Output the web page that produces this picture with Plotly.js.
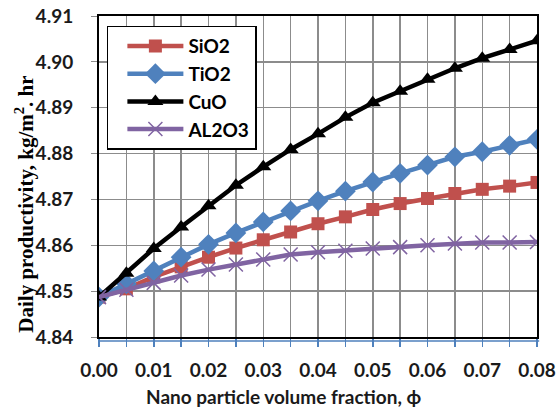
<!DOCTYPE html>
<html>
<head>
<meta charset="utf-8">
<script src="https://cdn.plot.ly/plotly-3.0.1.min.js"></script>
<style>html,body{margin:0;padding:0;background:#fff;}</style>
</head>
<body>
<div id="chart" style="width:556px;height:410px;"></div>
<script>
const phi = [0.000, 0.005, 0.010, 0.015, 0.020, 0.025, 0.030, 0.035, 0.040, 0.045, 0.050, 0.055, 0.060, 0.065, 0.070, 0.075, 0.080];
const sio2 = [4.8487, 4.8505, 4.8531, 4.8553, 4.8574, 4.8594, 4.8612, 4.8629, 4.8647, 4.8662, 4.8678, 4.8691, 4.8702, 4.8713, 4.8722, 4.8729, 4.8737];
const tio2 = [4.8487, 4.8516, 4.8544, 4.8574, 4.8602, 4.8627, 4.8651, 4.8675, 4.8697, 4.8718, 4.8738, 4.8757, 4.8775, 4.8793, 4.8804, 4.8818, 4.8831];
const cuo = [4.8487, 4.8539, 4.8593, 4.8640, 4.8686, 4.8731, 4.8771, 4.8809, 4.8843, 4.8879, 4.8911, 4.8936, 4.8962, 4.8986, 4.9008, 4.9027, 4.9046];
const al2o3 = [4.8487, 4.8503, 4.8518, 4.8534, 4.8547, 4.8558, 4.8569, 4.8580, 4.8585, 4.8588, 4.8593, 4.8596, 4.8600, 4.8604, 4.8606, 4.8606, 4.8607];
const xTickVals = [0.00, 0.01, 0.02, 0.03, 0.04, 0.05, 0.06, 0.07, 0.08];
const xTickText = ["0.00", "0.01", "0.02", "0.03", "0.04", "0.05", "0.06", "0.07", "0.08"];
const yTickVals = [4.84, 4.85, 4.86, 4.87, 4.88, 4.89, 4.90, 4.91];
const yTickText = ["4.84", "4.85", "4.86", "4.87", "4.88", "4.89", "4.90", "4.91"];
const xTitle = "Nano particle volume fraction, ϕ";
const yTitle = "Daily productivity, kg/m<sup>2</sup>. hr";

const sans = "Lato, 'Open Sans', sans-serif";
const serif = "'Liberation Serif', 'Times New Roman', serif";
const traces = [
  {x: phi, y: sio2, name: "SiO2", mode: "lines+markers", line: {color: "#C0504D", width: 4.5},
   marker: {symbol: "square", size: 13, color: "#C0504D"}},
  {x: phi, y: tio2, name: "TiO2", mode: "lines+markers", line: {color: "#4F81BD", width: 4.5},
   marker: {symbol: "diamond", size: 16, color: "#4F81BD"}},
  {x: phi, y: cuo, name: "CuO", mode: "lines+markers", line: {color: "#000000", width: 4.5},
   marker: {symbol: "triangle-up", size: 14, color: "#000000"}},
  {x: phi, y: al2o3, name: "AL2O3", mode: "lines+markers", line: {color: "#8064A2", width: 4.5},
   marker: {symbol: "x-thin", size: 14, color: "#8064A2", line: {color: "#8064A2", width: 1.5}}}
];
const layout = {
  width: 556, height: 410,
  margin: {l: 99, r: 19, t: 16, b: 73},
  paper_bgcolor: "#fff", plot_bgcolor: "#fff",
  showlegend: true,
  legend: {x: 0.018, y: 0.97, xanchor: "left", yanchor: "top",
    bgcolor: "#fff", bordercolor: "#000", borderwidth: 1.5,
    font: {family: sans, size: 19, color: "#000", weight: "bold"},
    tracegroupgap: 0, itemwidth: 70},
  xaxis: {
    range: [0, 0.08], tickvals: xTickVals, ticktext: xTickText,
    showgrid: true, gridcolor: "#8c8c8c", gridwidth: 1.5,
    ticks: "outside", ticklen: 8, tickcolor: "#4F81BD", tickwidth: 1.5,
    minor: {dtick: 0.005, tick0: 0, showgrid: true, gridcolor: "#8c8c8c", gridwidth: 1.5, ticks: "outside", ticklen: 8, tickcolor: "#4F81BD"},
    showline: true, linecolor: "#000", linewidth: 2, mirror: true,
    zeroline: false, ticklabelstandoff: 7,
    tickfont: {family: sans, size: 19, color: "#1a1a1a", weight: "bold"}
  },
  yaxis: {
    range: [4.84, 4.91], tickvals: yTickVals, ticktext: yTickText,
    showgrid: true, gridcolor: "#8c8c8c", gridwidth: 1.5,
    ticks: "outside", ticklen: 6, tickcolor: "#8c8c8c", tickwidth: 1,
    showline: true, linecolor: "#000", linewidth: 2, mirror: true,
    zeroline: false, ticklabelstandoff: 14,
    tickfont: {family: sans, size: 19, color: "#1a1a1a", weight: "bold"}
  },
  shapes: [
    {type: "line", xref: "paper", yref: "paper", x0: 0, x1: 1.005, y0: -0.0125, y1: -0.0125,
     line: {color: "#4F81BD", width: 1.5}, layer: "above"}
  ],
  annotations: [
    {text: xTitle, xref: "paper", yref: "paper", x: 0.422, y: -0.185, xanchor: "center", yanchor: "middle",
     showarrow: false, font: {family: sans, size: 19, color: "#1a1a1a", weight: "bold"}},
    {text: yTitle, xref: "paper", yref: "paper", x: -0.17, y: 0.414, xanchor: "center", yanchor: "middle",
     textangle: -90, showarrow: false, font: {family: serif, size: 21, color: "#000", weight: "bold"}}
  ]
};
function stretchLegend(gd) {
  // lengthen the legend sample lines to match the reference legend
  gd.querySelectorAll("g.legend g.traces").forEach(function (item) {
    item.querySelectorAll("g.legendlines path").forEach(function (p) { p.setAttribute("d", "M19,0h56"); });
    item.querySelectorAll("g.legendpoints path.scatterpts").forEach(function (p) {
      p.setAttribute("transform", "translate(47,0)");
    });
  });
}
const gdiv = document.getElementById("chart");
const done = Plotly.newPlot(gdiv, traces, layout, {displayModeBar: false, staticPlot: true});
stretchLegend(gdiv);
done.then(function (gd) {
  stretchLegend(gd);
  setTimeout(function () { stretchLegend(gd); }, 30);
});
</script>
</body>
</html>
